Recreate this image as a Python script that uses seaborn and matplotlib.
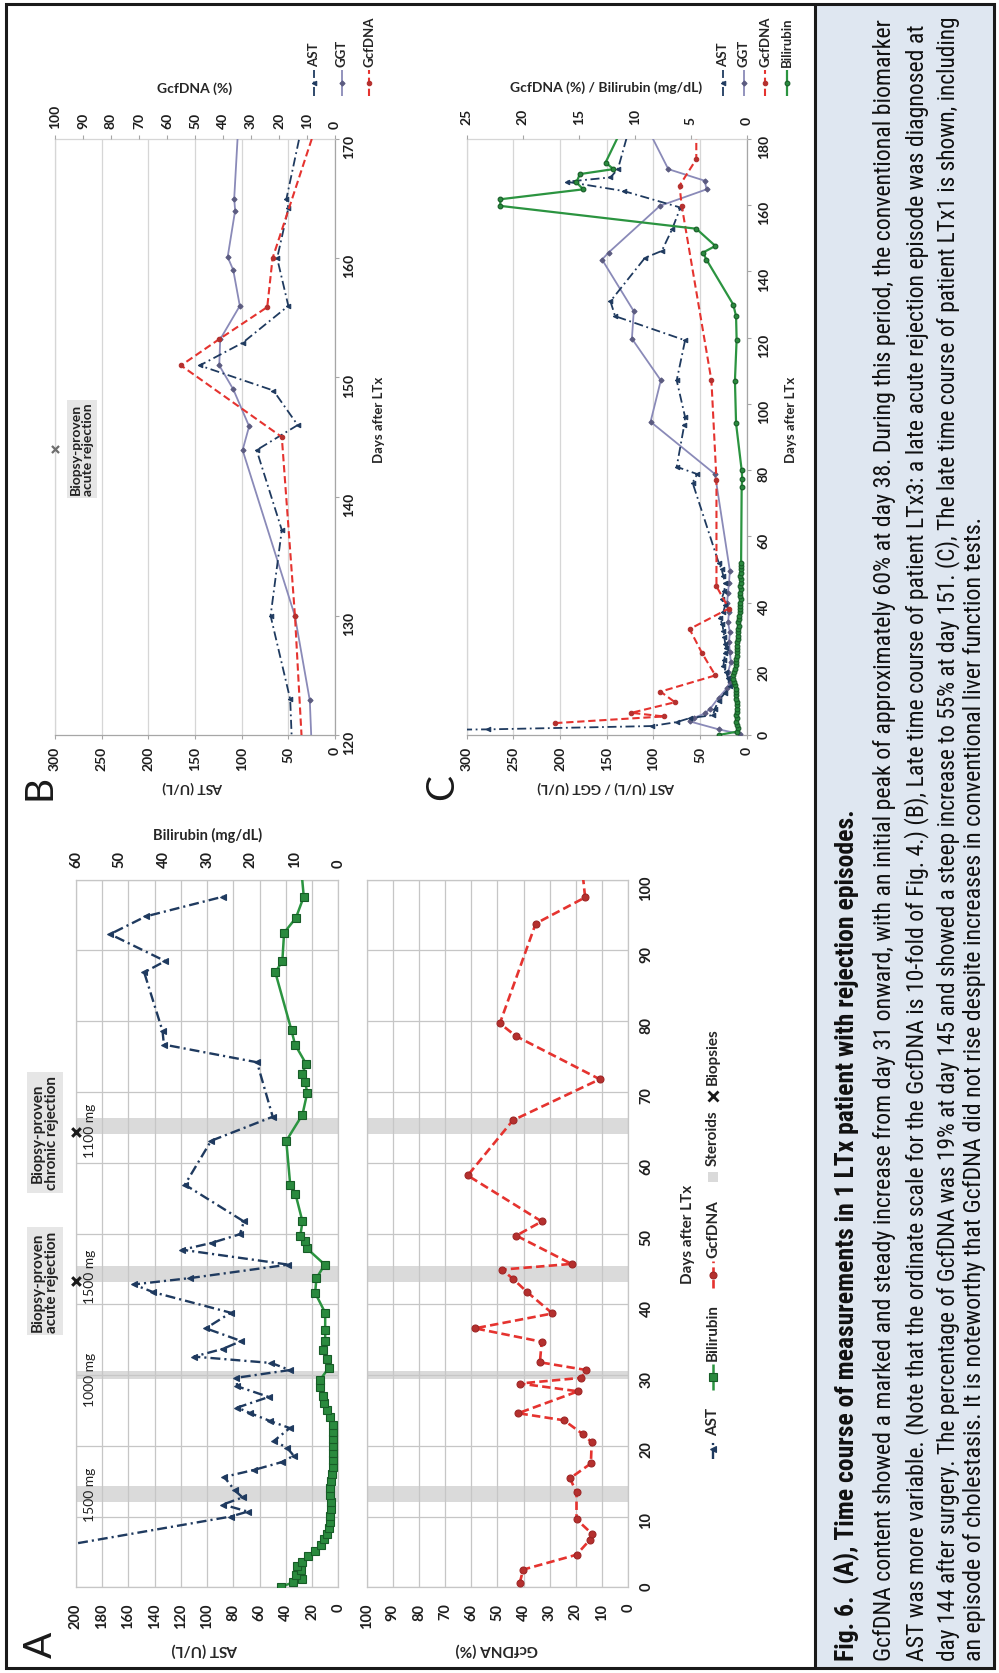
import matplotlib
matplotlib.use("Agg")
import matplotlib.pyplot as plt
import matplotlib.transforms as mtransforms
from matplotlib.patches import Rectangle
import seaborn as sns

# ---------------- Panel A: LTx patient with rejection episodes ----------------
a_ast_day = [2.0, 10.0, 10.7, 11.7, 12.7, 13.7, 15.6, 16.6, 17.7, 18.6,
             19.7, 20.7, 22.5, 23.5, 24.6, 25.4, 26.9, 28.4, 29.6, 30.7,
             31.7, 32.6, 33.7, 34.8, 36.6, 38.8, 41.7, 42.8, 43.7, 45.6,
             47.7, 48.7, 49.9, 51.7, 56.9, 63.1, 66.5, 74.2, 76.7, 78.6,
             86.9, 88.5, 92.3, 94.8, 97.6]
a_ast = [330, 82, 69, 88, 73, 79, 87, 64, 43, 34,
         39, 49, 37, 52, 67, 77, 53, 77, 78, 37,
         51, 110, 88, 74, 101, 82, 141, 156, 113, 38,
         119, 96, 75, 72, 117, 97, 50, 62, 133, 134,
         148, 132, 174, 147, 88]

a_bili_day = [0.1, 0.7, 1.2, 1.8, 2.4, 3.0, 3.6, 4.4, 5.2, 6.0,
              6.8, 7.6, 8.4, 9.2, 10.1, 11.0, 12.0, 13.0, 14.0, 15.0,
              16.0, 17.0, 18.0, 19.0, 20.0, 21.0, 22.0, 23.0, 24.0, 25.0,
              26.0, 27.0, 28.3, 29.3, 31.0, 32.2, 33.6, 34.8, 36.4, 38.8,
              41.6, 43.7, 45.6, 47.9, 48.9, 49.6, 51.7, 55.6, 56.9, 63.1,
              66.8, 69.9, 71.4, 72.6, 73.9, 76.7, 78.7, 86.9, 88.5, 92.5,
              94.6, 97.6, 101.0]
a_bili = [13.0, 10.3, 8.4, 9.6, 8.6, 9.4, 8.2, 6.9, 5.3, 4.0,
          3.2, 2.6, 2.2, 1.9, 1.8, 1.7, 1.7, 1.8, 1.8, 1.7,
          1.5, 1.3, 1.1, 1.1, 1.1, 1.2, 1.1, 1.3, 1.8, 2.6,
          3.2, 3.6, 4.1, 4.2, 2.2, 2.6, 3.4, 3.0, 3.0, 3.0,
          5.3, 5.0, 3.1, 7.2, 7.6, 8.7, 8.2, 9.8, 11.0, 11.9,
          8.2, 7.1, 7.6, 8.3, 7.3, 9.9, 10.7, 14.4, 12.8, 12.4,
          9.7, 7.9, 8.4]

a_gcf_day = [0.6, 2.5, 4.6, 6.7, 7.5, 9.6, 13.4, 15.4, 17.5, 20.5,
             21.6, 23.6, 24.6, 27.7, 28.8, 29.6, 30.7, 31.8, 34.7, 36.6,
             38.7, 41.7, 43.6, 44.9, 45.7, 49.7, 51.7, 58.2, 66.0, 71.8,
             77.9, 79.7, 93.8, 97.5, 101.0]
a_gcf = [41.5, 40.2, 19.8, 14.7, 13.7, 19.8, 19.8, 22.3, 14.3, 14.0,
         17.2, 24.6, 42.1, 19.2, 41.5, 18.0, 16.0, 33.8, 33.1, 58.6,
         29.0, 38.6, 44.1, 48.3, 21.7, 42.8, 33.1, 61.4, 44.1, 10.9,
         43.0, 49.1, 35.4, 16.5, 17.5]

a_steroid_start = [12.1, 29.4, 43.1, 64.0]
a_steroid_end = [14.3, 30.6, 45.4, 66.3]
a_dose_day = [13.2, 29.5, 44.0, 64.7]
a_dose_label = ["1500 mg", "1000 mg", "1500 mg", "1100 mg"]
a_biopsy_day = [43.3, 64.3]
a_biopsy_label = ["Biopsy-proven\nacute rejection", "Biopsy-proven\nchronic rejection"]

# ---------------- Panel B: late course of patient LTx3 ----------------
b_ast_day = [119, 123, 130, 137.2, 143.9, 146, 148.9, 151, 152.9, 156, 160, 164.2, 165, 172]
b_ast = [46, 48, 69, 57, 84, 40, 66, 145, 99, 50, 62, 50, 52, 33]
b_ggt_day = [119, 122.9, 130, 143.9, 145.9, 149, 151, 153.2, 156, 159, 160.1, 164, 165, 172]
b_ggt = [25, 27, 43, 99, 92, 109, 124, 123, 102, 109, 115, 107, 108, 103]
b_gcf_day = [118, 130, 145, 151, 153.2, 155.9, 160, 174]
b_gcf = [11.5, 14.3, 19, 55, 41.4, 24.2, 22.3, 2.7]
b_biopsy_day = [144]

# ---------------- Panel C: late course of patient LTx1 ----------------
c_ast_day = [1.4, 1.7, 2.7, 3.9, 5.1, 6.0, 8.0, 10.4, 12.8, 14.7,
             17.1, 19.0, 20.9, 22.8, 24.8, 26.2, 27.6, 29.5, 31.5, 33.4,
             35.3, 37.2, 39.2, 41.0, 43.5, 45.9, 48.0, 50.2, 52.0, 76.2,
             78.8, 81.0, 93.5, 96.0, 107.1, 119.2, 126.5, 131.0, 144.1, 146.2,
             152.7, 159.3, 164.3, 167.1, 168.4, 170.9, 182.0]
c_ast = [420, 277, 102, 75, 61, 36, 34, 30, 23, 18,
         20, 22, 25, 24, 23, 22, 23, 24, 25, 26,
         29, 25, 23, 27, 24, 23, 25, 27, 30, 58,
         53, 75, 67, 66, 75, 66, 141, 146, 109, 91,
         80, 71, 132, 193, 146, 138, 127]
c_ggt_day = [0.3, 1.7, 4.1, 5.1, 6.5, 8.0, 11.3, 14.2, 16.1, 19.0,
             22.0, 25.0, 28.0, 31.0, 34.0, 37.0, 40.0, 43.0, 46.0, 49.5,
             78.8, 94.6, 107.1, 119.7, 128.0, 143.6, 145.7, 159.8, 164.8, 167.4,
             170.9, 182.0]
c_ggt = [7, 30, 61, 57, 45, 39, 30, 21, 18, 20,
         17, 18, 19, 18, 20, 19, 21, 20, 19, 18,
         34, 103, 92, 123, 121, 155, 148, 93, 43, 45,
         84, 104]
c_gcf_day = [3.6, 5.6, 6.7, 9.9, 13.1, 18.0, 24.8, 32.0, 38.2, 44.9,
             77.0, 107.1, 159.8, 165.9, 173.9, 183.0]
c_gcf = [17.1, 7.4, 10.3, 6.4, 7.7, 2.8, 4.0, 5.1, 1.6, 2.7,
         2.7, 3.15, 5.8, 6.0, 4.5, 4.5]
c_bili_day = [0.0, 1.0, 2.0, 3.0, 4.0, 5.0, 6.0, 7.0, 8.0, 9.0,
              10.0, 11.0, 12.0, 13.0, 14.0, 15.0, 16.0, 17.0, 18.0, 19.0,
              20.0, 21.0, 22.0, 23.0, 24.0, 25.0, 26.0, 27.0, 28.0, 29.0,
              30.0, 31.0, 32.0, 33.0, 34.0, 35.0, 36.0, 37.0, 38.0, 39.0,
              40.0, 41.0, 42.0, 43.0, 44.0, 45.0, 46.0, 47.0, 48.0, 49.0,
              50.0, 51.0, 52.0, 74.8, 77.4, 80.0, 94.1, 107.0, 119.4, 126.5,
              130.0, 143.6, 145.7, 147.7, 152.9, 159.8, 161.8, 164.8, 166.9, 169.4,
              170.9, 172.9, 182.0]
c_bili = [2.5, 0.9, 0.8, 0.9, 1.0, 0.9, 0.95, 0.9, 0.85, 0.9,
          0.9, 1.0, 1.0, 0.95, 1.0, 1.05, 1.1, 1.2, 1.2, 1.1,
          1.05, 1.0, 1.0, 0.95, 0.9, 0.9, 0.85, 0.9, 0.85, 0.8,
          0.8, 0.75, 0.75, 0.7, 0.75, 0.7, 0.65, 0.6, 0.6, 0.6,
          0.6, 0.55, 0.6, 0.6, 0.55, 0.6, 0.55, 0.55, 0.6, 0.55,
          0.55, 0.5, 0.5, 0.45, 0.4, 0.45, 0.95, 1.05, 0.9, 0.95,
          1.2, 3.6, 3.9, 2.8, 4.5, 22.0, 22.0, 14.6, 15.2, 14.9,
          11.9, 12.6, 11.3]

caption_lines = [
    "Fig. 6.  (A), Time course of measurements in 1 LTx patient with rejection episodes.",
    "GcfDNA content showed a marked and steady increase from day 31 onward, with an initial peak of "
    "approximately 60% at day 38. During this period, the conventional biomarker",
    "AST was more variable. (Note that the ordinate scale for the GcfDNA is 10-fold of Fig. 4.) (B), "
    "Late time course of patient LTx3: a late acute rejection episode was diagnosed at",
    "day 144 after surgery. The percentage of GcfDNA was 19% at day 145 and showed a steep increase "
    "to 55% at day 151. (C), The late time course of patient LTx1 is shown, including",
    "an episode of cholestasis. It is noteworthy that GcfDNA did not rise despite increases in "
    "conventional liver function tests.",
]

# ---------------- style ----------------
sns.set_theme(style="white")
plt.rcParams["font.family"] = ["Lato", "DejaVu Sans"]
plt.rcParams["font.weight"] = "bold"
plt.rcParams["text.color"] = "#262626"

AST_C = "#1f3a5f"
GGT_C = "#8a8ab8"
GGT_M = "#5b5b80"
GCF_C = "#e5332f"
GCF_M = "#b5302e"
BIL_C = "#2b9440"
BIL_M = "#2a8a3e"
BIL_E = "#175c27"
GRID_A = "#c6c6c6"
GRID_BC = "#d6d6d6"
BAND = "#dadada"
TXT = "#1e1e1e"

W, H, DPI = 999, 1674, 100
fig = plt.figure(figsize=(W / DPI, H / DPI), dpi=DPI)
fig.patch.set_facecolor("white")


def panel_axes(left, right, top, bottom):
    return fig.add_axes([left / W, 1 - bottom / H, (right - left) / W, (bottom - top) / H])


def base_style(ax, grid_col, xgrid=True, ygrid=True):
    ax.set_facecolor("none")
    for s in ax.spines.values():
        s.set_color(grid_col)
        s.set_linewidth(0.9)
    ax.grid(False)
    if xgrid:
        ax.xaxis.grid(True, color=grid_col, lw=0.9)
    if ygrid:
        ax.yaxis.grid(True, color=grid_col, lw=0.9)
    ax.set_axisbelow(True)


def value_axis(ax, lim, ticks, top, pad, length=0, size=10.5):
    ax.set_xlim(lim, 0)
    ax.set_xticks(ticks)
    ax.set_xticklabels([str(t) for t in ticks])
    ax.tick_params(axis="x", which="both", labelrotation=90, pad=pad, labelsize=size,
                   length=length, width=0.8, color="#a6a6a6", labelcolor=TXT,
                   top=top, labeltop=top, bottom=not top, labelbottom=not top)
    ax.set_xlabel("")


def day_axis(ax, lim, ticks, labels, pad, length=0, size=10.5):
    ax.set_ylim(*lim)
    ax.set_yticks(ticks)
    ax.set_yticklabels([str(t) for t in ticks] if labels else [])
    ax.tick_params(axis="y", which="both", labelrotation=90, pad=pad, labelsize=size,
                   length=length, width=0.8, color="#a6a6a6", labelcolor=TXT,
                   left=False, labelleft=False, right=labels, labelright=labels)
    ax.set_ylabel("")


def series(ax, x, y, color, ls, lw, marker, ms, mfc, mec, z=3):
    sns.lineplot(x=x, y=y, ax=ax, sort=False, estimator=None, legend=False,
                 color=color, linestyle=ls, linewidth=lw, marker=marker,
                 markersize=ms, markerfacecolor=mfc, markeredgecolor=mec,
                 markeredgewidth=0.8, zorder=z)


DASHDOT_A = (0, (4.2, 1.7, 0.9, 1.7))
DASH_A = (0, (3.2, 1.6))
DASHDOT_BC = (0, (5, 2, 1, 2))
DASH_BC = (0, (3.5, 1.8))

# ---------------- Panel A, AST + bilirubin ----------------
axA1 = panel_axes(76, 338.3, 880.7, 1588.3)
base_style(axA1, GRID_A)
series(axA1, a_ast, a_ast_day, AST_C, DASHDOT_A, 1.7, "<", 5, AST_C, AST_C)
for s0, s1 in zip(a_steroid_start, a_steroid_end):
    axA1.axhspan(s0, s1, color=BAND, lw=0, zorder=0.3)
value_axis(axA1, 200, list(range(0, 201, 20)), top=False, pad=11)
day_axis(axA1, (0, 100), list(range(0, 101, 10)), labels=False, pad=0)
axA1.scatter([200] * len(a_biopsy_day), a_biopsy_day, marker="x", s=38, linewidths=2.2,
             color="#1a1a1a", clip_on=False, zorder=6)
trA1 = mtransforms.blended_transform_factory(fig.transFigure, axA1.transData)
for d, lab in zip(a_dose_day, a_dose_label):
    axA1.text(90 / W, d, lab, transform=trA1, rotation=90, ha="center", va="center",
              fontsize=10, fontweight="normal", color="#222222")
for d, lab in zip(a_biopsy_day, a_biopsy_label):
    axA1.text(45 / W, d, lab, transform=trA1, rotation=90, ha="center", va="center",
              fontsize=11, multialignment="center", color="#222222", linespacing=1.05,
              bbox=dict(boxstyle="square,pad=0.22", fc="#e6e6e6", ec="none"))

axA1b = axA1.twiny()
series(axA1b, a_bili, a_bili_day, BIL_C, "-", 1.8, "s", 5.5, BIL_M, BIL_E, z=4)
value_axis(axA1b, 60, list(range(0, 61, 10)), top=True, pad=9)
axA1b.set_ylim(0, 100)
for s in axA1b.spines.values():
    s.set_visible(False)
axA1b.grid(False)

# ---------------- Panel A, GcfDNA ----------------
axA2 = panel_axes(366.7, 628.3, 880.7, 1588.3)
base_style(axA2, GRID_A)
for s0, s1 in zip(a_steroid_start, a_steroid_end):
    axA2.axhspan(s0, s1, color=BAND, lw=0, zorder=0.3)
series(axA2, a_gcf, a_gcf_day, GCF_C, DASH_A, 1.9, "o", 5, GCF_M, "#9e2626")
value_axis(axA2, 100, list(range(0, 101, 10)), top=False, pad=11)
day_axis(axA2, (0, 100), list(range(0, 101, 10)), labels=True, pad=8)

# ---------------- Panel B ----------------
axB = panel_axes(55, 335, 140, 736)
base_style(axB, GRID_BC, xgrid=True, ygrid=False)
series(axB, b_ggt, b_ggt_day, GGT_C, "-", 1.3, "D", 2.6, GGT_M, GGT_M)
series(axB, b_ast, b_ast_day, AST_C, DASHDOT_BC, 1.3, "<", 3.2, AST_C, AST_C)
value_axis(axB, 300, list(range(0, 301, 50)), top=False, pad=5, length=3, size=10)
day_axis(axB, (120, 170), list(range(120, 171, 10)), labels=True, pad=3, length=3, size=10)
axB.spines["right"].set_color("#a6a6a6")
axB.spines["bottom"].set_color("#a6a6a6")
axB.scatter([300], b_biopsy_day, marker="x", s=26, linewidths=1.6, color="#6e6e6e",
            clip_on=False, zorder=6)
trB = mtransforms.blended_transform_factory(fig.transFigure, axB.transData)
axB.text(82 / W, b_biopsy_day[0], "Biopsy-proven\nacute rejection", transform=trB,
         rotation=90, ha="center", va="center", fontsize=10, multialignment="center",
         color="#222222", linespacing=1.05,
         bbox=dict(boxstyle="square,pad=0.22", fc="#e6e6e6", ec="none"))
axB2 = axB.twiny()
series(axB2, b_gcf, b_gcf_day, GCF_C, DASH_BC, 1.5, "o", 3.2, GCF_M, GCF_M, z=4)
value_axis(axB2, 100, list(range(0, 101, 10)), top=True, pad=5, length=3, size=10)
axB2.set_ylim(120, 170)
for s in axB2.spines.values():
    s.set_visible(False)
axB2.grid(False)

# ---------------- Panel C ----------------
axC = panel_axes(466.7, 746.7, 140, 736)
base_style(axC, GRID_BC, xgrid=True, ygrid=False)
series(axC, c_ggt, c_ggt_day, GGT_C, "-", 1.3, "D", 2.6, GGT_M, GGT_M)
series(axC, c_ast, c_ast_day, AST_C, DASHDOT_BC, 1.3, "<", 3.2, AST_C, AST_C)
value_axis(axC, 300, list(range(0, 301, 50)), top=False, pad=5, length=3, size=10)
day_axis(axC, (0, 180), list(range(0, 181, 20)), labels=True, pad=5, length=3, size=10)
axC.spines["right"].set_color("#a6a6a6")
axC.spines["bottom"].set_color("#a6a6a6")
axC2 = axC.twiny()
series(axC2, c_gcf, c_gcf_day, GCF_C, DASH_BC, 1.5, "o", 3.2, GCF_M, GCF_M, z=4)
series(axC2, c_bili, c_bili_day, BIL_C, "-", 1.6, "o", 3.4, BIL_M, BIL_E, z=5)
value_axis(axC2, 25, list(range(0, 26, 5)), top=True, pad=8, length=3, size=10)
axC2.set_ylim(0, 180)
for s in axC2.spines.values():
    s.set_visible(False)
axC2.grid(False)

# ---------------- overlay: titles, legends, caption, frame ----------------
ov = fig.add_axes([0, 0, 1, 1], zorder=20)
ov.set_xlim(0, W)
ov.set_ylim(H, 0)
ov.axis("off")

ov.add_patch(Rectangle((815, 5), 178, 1664, facecolor="#dfe7f1", edgecolor="none", zorder=0))
ov.add_patch(Rectangle((5.5, 5), 988, 1664, fill=False, edgecolor="#1a1a1a", lw=2.2, zorder=5))
ov.plot([814.5, 814.5], [5, 1669], color="#1a1a1a", lw=2.2, zorder=5)


def otext(x, y, s, rot, size, **kw):
    ov.text(x, y, s, rotation=rot, ha=kw.pop("ha", "center"), va=kw.pop("va", "center"),
            fontsize=size, rotation_mode="anchor", **kw)


# panel letters
for x, y, s in [(41, 1645, "A"), (40, 787, "B"), (442, 787, "C")]:
    otext(x, y, s, 90, 28, fontweight="normal", color="#1a1a1a")

# axis titles
otext(205, 1650, "AST (U/L)", 180, 11)
otext(497, 1650, "GcfDNA (%)", 180, 11)
otext(208, 835, "Bilirubin (mg/dL)", 0, 10.5)
otext(688, 1234, "Days after LTx", 90, 11)
otext(193, 787, "AST (U/L)", 180, 10)
otext(195, 89, "GcfDNA (%)", 0, 10)
otext(379, 420, "Days after LTx", 90, 9.5)
otext(606, 787, "AST (U/L) / GGT (U/L)", 180, 10)
otext(606, 88, "GcfDNA (%) / Bilirubin (mg/dL)", 0, 10)
otext(791, 420, "Days after LTx", 90, 9.5)


def handle(x, y_lo, y_hi, color, ls, lw, marker, ms, mfc, mec):
    ov.plot([x, x], [y_lo, y_hi], color=color, linestyle=ls, lw=lw, solid_capstyle="butt")
    ov.plot([x], [(y_lo + y_hi) / 2], marker=marker, ms=ms, mfc=mfc, mec=mec, mew=0.8,
            linestyle="none")


def ltext(x, y, s, size):
    ov.text(x, y, s, rotation=90, rotation_mode="anchor", ha="left", va="center",
            fontsize=size)


# legend of panel A
LX = 713
handle(LX, 1460, 1440, AST_C, DASHDOT_A, 1.7, "<", 5, AST_C, AST_C)
ltext(LX, 1436, "AST", 11)
handle(LX, 1391, 1365, BIL_C, "-", 1.8, "s", 5.5, BIL_M, BIL_E)
ltext(LX, 1361, "Bilirubin", 11)
handle(LX, 1289, 1262, GCF_C, DASH_A, 1.9, "o", 5, GCF_M, "#9e2626")
ltext(LX, 1258, "GcfDNA", 11)
ov.add_patch(Rectangle((LX - 5, 1173), 10, 10, facecolor=BAND, edgecolor="none"))
ltext(LX, 1166, "Steroids", 11)
ov.plot([LX], [1097], marker="x", ms=6.5, mew=2.0, color="#1a1a1a", linestyle="none")
ltext(LX, 1085, "Biopsies", 11)

# legend of panel B
handle(314, 97, 71, AST_C, DASHDOT_BC, 1.3, "<", 3.2, AST_C, AST_C)
ltext(314, 67, "AST", 9.5)
handle(342, 97, 71, GGT_C, "-", 1.3, "D", 2.6, GGT_M, GGT_M)
ltext(342, 67, "GGT", 9.5)
handle(369, 97, 71, GCF_C, DASH_BC, 1.5, "o", 3.2, GCF_M, GCF_M)
ltext(369, 67, "GcfDNA", 9.5)

# legend of panel C
handle(723, 97, 71, AST_C, DASHDOT_BC, 1.3, "<", 3.2, AST_C, AST_C)
ltext(723, 67, "AST", 9.5)
handle(744, 97, 71, GGT_C, "-", 1.3, "D", 2.6, GGT_M, GGT_M)
ltext(744, 67, "GGT", 9.5)
handle(765, 97, 71, GCF_C, DASH_BC, 1.5, "o", 3.2, GCF_M, GCF_M)
ltext(765, 67, "GcfDNA", 9.5)
handle(787, 97, 71, BIL_C, "-", 1.6, "o", 3.4, BIL_M, BIL_E)
ltext(787, 67, "Bilirubin", 9.5)

# caption, each line fitted to its printed length
cap_font = ["Roboto Condensed", "Roboto", "DejaVu Sans"]
cap_x = [847, 885, 917, 948, 975]
cap_len = [850, 1641, 1641, 1641, 1145]
cap_wt = ["bold", "normal", "normal", "normal", "normal"]
cap_texts = []
for x, s, wt in zip(cap_x, caption_lines, cap_wt):
    t = ov.text(x, 1661, s, rotation=90, rotation_mode="anchor", ha="left", va="center",
                fontsize=14, fontweight=wt, family=cap_font, color="#111111")
    cap_texts.append(t)
for _ in range(2):
    fig.canvas.draw()
    rend = fig.canvas.get_renderer()
    for t, L in zip(cap_texts, cap_len):
        bb = t.get_window_extent(rend)
        t.set_fontsize(t.get_fontsize() * L / bb.height)

fig.savefig("out.png", dpi=DPI, facecolor="white")
